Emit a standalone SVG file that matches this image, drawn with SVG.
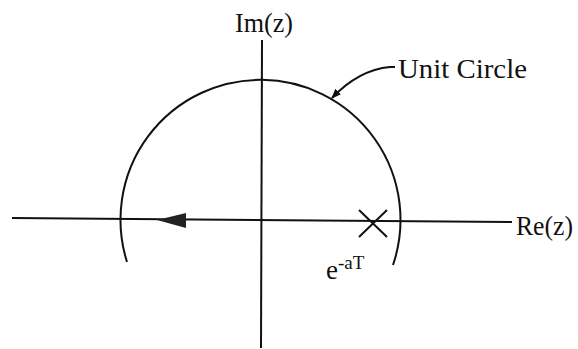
<svg xmlns="http://www.w3.org/2000/svg" width="578" height="349" viewBox="0 0 578 349">
<style>
.ln{fill:none;stroke:#111;stroke-width:2}
text{fill:#111}
</style>
<defs>
<marker id="ah" markerWidth="10" markerHeight="8" refX="9" refY="4" orient="auto" markerUnits="userSpaceOnUse" viewBox="0 0 10 8">
<path d="M0,0 L10,4 L0,8 Z" fill="#111"/>
</marker>
</defs>
<rect width="578" height="349" fill="#fff"/>
<g id="axes">
<path class="ln" d="M12 218 L512 222" stroke-width="2.2"/>
<path class="ln" d="M262 40 L261 348"/>
<path d="M157 220 L186 213 L186 228 Z" fill="#222"/>
</g>
<g id="unit-circle">
<path class="ln" d="M127 262 A140 140 0 1 1 393 265"/>
</g>
<g id="pole">
<path class="ln" d="M359 210 L387 237 M387 210 L359 237" stroke-width="1.8"/>
<text font-family="Liberation Serif, DejaVu Serif, serif" x="326" y="279" font-size="27">e<tspan font-size="19" dy="-10">-aT</tspan></text>
</g>
<g id="labels" font-family="Liberation Serif, DejaVu Serif, serif">
<text x="516" y="235" font-size="27" textLength="57" lengthAdjust="spacingAndGlyphs">Re(z)</text>
<text x="235" y="32" font-size="28" textLength="58" lengthAdjust="spacingAndGlyphs">Im(z)</text>
<text x="398" y="78" font-size="28" textLength="129" lengthAdjust="spacingAndGlyphs">Unit Circle</text>
</g>
<g id="connectors">
<path class="ln" d="M395 67 L390 67 C368 69 350 79 332 98" marker-end="url(#ah)" stroke-width="1.8"/>
</g>
</svg>
